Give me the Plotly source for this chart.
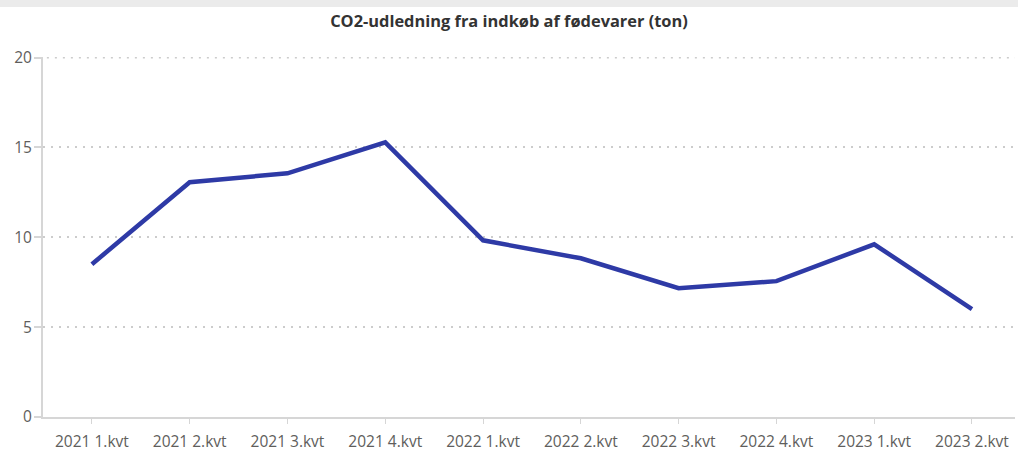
import plotly.graph_objects as go

categories = ["2021 1.kvt", "2021 2.kvt", "2021 3.kvt", "2021 4.kvt", "2022 1.kvt",
              "2022 2.kvt", "2022 3.kvt", "2022 4.kvt", "2023 1.kvt", "2023 2.kvt"]
co2_ton = [8.5, 13.06, 13.56, 15.28, 9.83, 8.83, 7.17, 7.56, 9.61, 6.0]
y_ticks = [0, 5, 10, 15, 20]
title_text = "CO2-udledning fra indkøb af fødevarer (ton)"

fig = go.Figure()
fig.add_trace(go.Scatter(
    x=list(range(len(categories))), y=co2_ton, mode="lines",
    line=dict(color="#2e3aa6", width=4.5),
    hoverinfo="skip", showlegend=False,
))

fig.update_layout(
    width=1018, height=451,
    margin=dict(l=43, r=3, t=57, b=34, autoexpand=False),
    paper_bgcolor="white", plot_bgcolor="white",
    font=dict(family="Open Sans, DejaVu Sans, sans-serif", color="#605e5c", size=15.5),
    title=dict(text="<b>" + title_text + "</b>", x=0.5, xanchor="center",
               y=1 - 21 / 451, yanchor="middle",
               font=dict(size=16.4, color="#333333")),
    shapes=[
        dict(type="rect", xref="paper", yref="paper",
             x0=-0.1, x1=1.1, y0=(417 - 7) / 360, y1=1.3,
             fillcolor="#ebebeb", line=dict(width=0), layer="below"),
        dict(type="line", xref="paper", yref="y", x0=0.004, x1=1, y0=max(y_ticks), y1=max(y_ticks),
             line=dict(color="#cccccc", width=2, dash="2px,6px"), layer="below"),
    ],
)
fig.update_xaxes(
    range=[-0.5, 9.44], tickmode="array", tickvals=list(range(len(categories))),
    ticktext=categories, showgrid=False, showline=True, linecolor="#d6d6d6",
    linewidth=2, ticks="outside", ticklen=5, tickcolor="#d6d6d6", tickwidth=1,
    zeroline=False, fixedrange=True, automargin=False, ticklabelstandoff=4,
)
fig.update_yaxes(
    range=[0, 20.03], tickvals=y_ticks, showgrid=True, gridcolor="#cccccc",
    griddash="2px,6px", gridwidth=2, showline=True, linecolor="#d6d6d6",
    linewidth=2, ticks="outside", ticklen=7, tickcolor="#d6d6d6", tickwidth=2,
    zeroline=False, fixedrange=True, automargin=False, ticklabelstandoff=-1,
)
fig.write_html("out.html", config={"displayModeBar": False},
               post_script="document.body.style.margin='0';document.body.style.overflow='hidden';")
